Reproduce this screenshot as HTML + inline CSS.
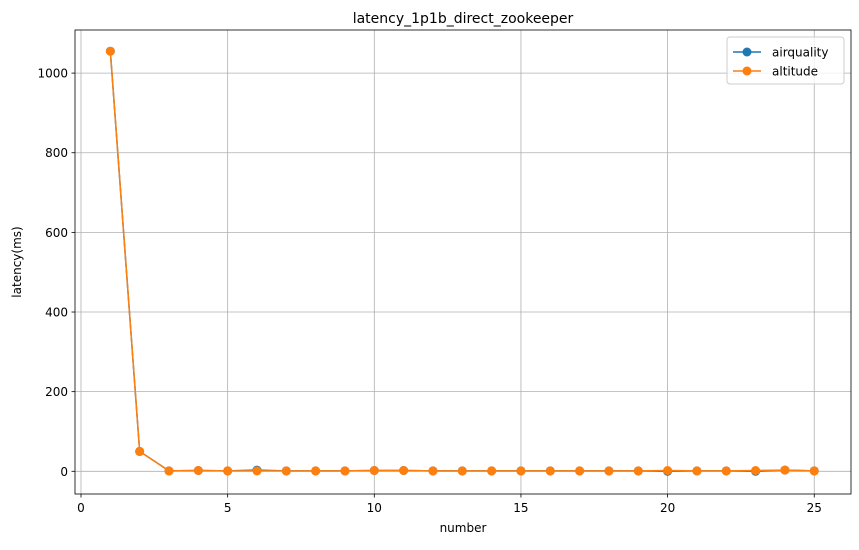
<!DOCTYPE html>
<html><head><meta charset="utf-8"><style>
body{margin:0;background:#fff;font-family:"Liberation Sans","DejaVu Sans",sans-serif;}
svg text{font-family:"DejaVu Sans","Liberation Sans",sans-serif;fill:#000;}
</style></head><body>
<svg id="c" width="859" height="545" xmlns="http://www.w3.org/2000/svg"></svg>
<script>
const xs=[1,2,3,4,5,6,7,8,9,10,11,12,13,14,15,16,17,18,19,20,21,22,23,24,25];
const airquality=[1055,50,1,2,1,3,1,1,1,2,2,1,1,1,1,1,1,1,1,0,1,1,0,3,1];
const altitude=[1055,50,1,2,1,1,1,1,1,2,2,1,1,1,1,1,1,1,1,2,1,1,2,3,1];
const xTicks=[0,5,10,15,20,25];
const yTicks=[0,200,400,600,800,1000];
const L=75,R=851,T=30,B=494;
const X=v=>81+(v)*29.33;
const Y=v=>471.3-v*0.3982;
const s=document.getElementById('c');
const NS='http://www.w3.org/2000/svg';
function el(t,a,p){const e=document.createElementNS(NS,t);for(const k in a)e.setAttribute(k,a[k]);(p||s).appendChild(e);return e;}
const g=el('g',{});


xTicks.forEach(v=>{el('line',{x1:X(v),x2:X(v),y1:T,y2:B,stroke:'#b0b0b0','stroke-width':0.8},g);
 el('line',{x1:X(v),x2:X(v),y1:B,y2:B+3.5,stroke:'#000','stroke-width':0.8});
 const t=el('text',{x:X(v),y:B+18,'font-size':12,'text-anchor':'middle'});t.textContent=v;
 });
yTicks.forEach(v=>{el('line',{x1:L,x2:R,y1:Y(v),y2:Y(v),stroke:'#b0b0b0','stroke-width':0.8},g);
 el('line',{x1:L-3.5,x2:L,y1:Y(v),y2:Y(v),stroke:'#000','stroke-width':0.8});
 const t=el('text',{x:L-7,y:Y(v)+4.5,'font-size':12,'text-anchor':'end'});t.textContent=v;
 });
function series(d,c,name){const gg=el('g',{});
 
 el('polyline',{points:d.map((v,i)=>X(xs[i])+','+Y(v)).join(' '),fill:'none',stroke:c,'stroke-width':1.5},gg);
 d.forEach((v,i)=>{const p=el('circle',{cx:X(xs[i]),cy:Y(v),r:4.5,fill:c},gg);
  });}
series(airquality,'#1f77b4','airquality');
series(altitude,'#ff7f0e','altitude');
const fr=el('rect',{x:L,y:T,width:R-L,height:B-T,fill:'none',stroke:'#000','stroke-width':0.8});

let t=el('text',{x:(L+R)/2,y:T-7,'font-size':14,'text-anchor':'middle'});t.textContent='latency_1p1b_direct_zookeeper';

t=el('text',{x:(L+R)/2,y:532,'font-size':12,'text-anchor':'middle'});t.textContent='number';

t=el('text',{x:21,y:(T+B)/2,'font-size':12,'text-anchor':'middle',transform:'rotate(-90 21 '+(T+B)/2+')'});t.textContent='latency(ms)';

const lg=el('g',{});

el('rect',{x:727,y:37,width:117,height:47,rx:3,fill:'#fff','fill-opacity':0.8,stroke:'#ccc'},lg);
[['airquality','#1f77b4',52],['altitude','#ff7f0e',71]].forEach(([n,c,y])=>{
 const e=el('g',{},lg);
 el('line',{x1:733,x2:761,y1:y,y2:y,stroke:c,'stroke-width':1.5},e);
 el('circle',{cx:747,cy:y,r:4.5,fill:c},e);
 const tt=el('text',{x:772,y:y+4.5,'font-size':12},e);tt.textContent=n;});
</script>
</body></html>
